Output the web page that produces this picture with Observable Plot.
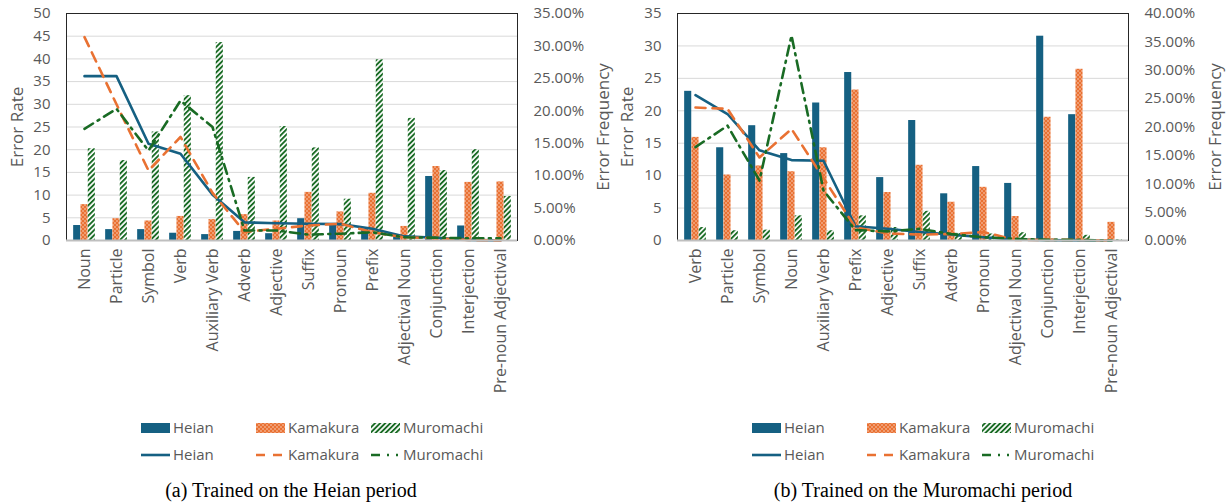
<!DOCTYPE html>
<html><head><meta charset="utf-8">
<script src="https://cdn.jsdelivr.net/npm/d3@7"></script>
<script src="https://cdn.jsdelivr.net/npm/@observablehq/plot@0.6"></script>
<style>
body{margin:0;background:#fff;width:1231px;height:504px;overflow:hidden;position:relative;font-family:"Open Sans",sans-serif}
.panel{position:absolute;top:0;width:616px;height:504px}
.caption{position:absolute;top:478px;font-family:"Liberation Serif",serif;font-size:20px;line-height:24px;color:#000;white-space:nowrap;transform:translateX(-50%)}
</style></head><body>
<div id="a" class="panel" style="left:0"></div>
<div id="b" class="panel" style="left:615px"></div>
<div class="caption" style="left:291px">(a) Trained on the Heian period</div>
<div class="caption" style="left:923px">(b) Trained on the Muromachi period</div>
<script>
// ---- Chart (a): Trained on the Heian period ----
const catsA = ["Noun","Particle","Symbol","Verb","Auxiliary Verb","Adverb","Adjective","Suffix","Pronoun","Prefix","Adjectival Noun","Conjunction","Interjection","Pre-noun Adjectival"];
const rateA_Heian     = [3.3,2.4,2.4,1.6,1.3,2.0,1.5,4.8,3.7,2.5,1.0,14.1,3.2,0.1];
const rateA_Kamakura  = [7.9,4.8,4.3,5.3,4.6,5.7,4.3,10.6,6.3,10.4,3.1,16.3,12.8,12.9];
const rateA_Muromachi = [20.2,17.6,23.9,31.9,43.6,13.9,25.1,20.4,9.1,39.8,26.9,15.4,20.0,9.7];
const freqA_Heian     = [25.34,25.34,14.91,13.37,7.07,2.80,2.66,2.59,2.52,1.82,0.63,0.42,0.10,0.00];
const freqA_Kamakura  = [31.36,21.0,10.78,15.96,7.35,1.33,1.82,2.31,2.59,1.26,0.49,0.35,0.07,0.00];
const freqA_Muromachi = [17.22,20.3,13.86,21.56,17.5,1.54,1.54,0.91,1.05,1.26,0.49,0.42,0.35,0.35];
const rateTicksA = [0,5,10,15,20,25,30,35,40,45,50];
const freqTicksA = [0,5,10,15,20,25,30,35];

// ---- Chart (b): Trained on the Muromachi period ----
const catsB = ["Verb","Particle","Symbol","Noun","Auxiliary Verb","Prefix","Adjective","Suffix","Adverb","Pronoun","Adjectival Noun","Conjunction","Interjection","Pre-noun Adjectival"];
const rateB_Heian     = [23.0,14.3,17.7,13.4,21.2,25.9,9.7,18.5,7.2,11.4,8.8,31.5,19.4,0.0];
const rateB_Kamakura  = [15.9,10.1,11.5,10.6,14.3,23.2,7.4,11.6,5.9,8.2,3.7,19.0,26.4,2.8];
const rateB_Muromachi = [2.0,1.5,1.6,3.8,1.5,3.8,2.0,4.5,1.1,1.0,1.2,0.2,0.8,0.1];
const freqB_Heian     = [25.6,22.29,15.89,14.17,14.06,2.51,2.06,1.49,1.03,0.57,0.17,0.06,0.0,0.0];
const freqB_Kamakura  = [23.43,23.2,14.63,19.66,10.97,2.29,1.26,1.03,1.14,1.49,0.11,0.11,0.11,0.0];
const freqB_Muromachi = [16.46,20.23,10.57,36.11,8.8,1.83,1.6,2.06,1.14,0.57,0.29,0.11,0.11,0.0];
const rateTicksB = [0,5,10,15,20,25,30,35];
const freqTicksB = [0,5,10,15,20,25,30,35,40];

const series = ["Heian","Kamakura","Muromachi"];
const colors = {Heian:"#156082", Kamakura:"#E97132", Muromachi:"#196B24"};
const GRAY = "#595959";

function addPatterns(defs, id) {
  const k = defs.append("pattern").attr("id", "kam-" + id).attr("patternUnits", "userSpaceOnUse")
    .attr("width", 4).attr("height", 4);
  k.append("rect").attr("width", 4).attr("height", 4).attr("fill", colors.Kamakura);
  k.append("rect").attr("x", 0.4).attr("y", 0.4).attr("width", 1.2).attr("height", 1.2).attr("fill", "#fff").attr("opacity", 0.85);
  k.append("rect").attr("x", 2.4).attr("y", 2.4).attr("width", 1.2).attr("height", 1.2).attr("fill", "#fff").attr("opacity", 0.85);
  const m = defs.append("pattern").attr("id", "muro-" + id).attr("patternUnits", "userSpaceOnUse")
    .attr("width", 3.6).attr("height", 3.6).attr("patternTransform", "rotate(45)");
  m.append("rect").attr("width", 3.6).attr("height", 3.6).attr("fill", "#fff");
  m.append("rect").attr("width", 1.9).attr("height", 3.6).attr("fill", colors.Muromachi);
}

function chart(el, id, cats, rates, freqs, rateTicks, freqTicks, mL, mR, titleL, titleR, legendX) {
  const yMax = rateTicks[rateTicks.length - 1];
  const fMax = freqTicks[freqTicks.length - 1];
  const k = yMax / fMax;
  const rows = cats.map((c, i) => ({cat: c, h: rates[0][i], ka: rates[1][i], mu: rates[2][i],
    fh: freqs[0][i], fk: freqs[1][i], fm: freqs[2][i]}));
  const W = 616, plotW = W - mL - mR;
  const band = plotW / cats.length;
  const bw = 7.3;
  const ins = (band - bw) / 2;
  const barOpts = (y, fill, dx) => ({x: "cat", y, fill, insetLeft: ins, insetRight: ins, dx});
  const svg = Plot.plot({
    width: W, height: 410,
    marginTop: 13, marginBottom: 170, marginLeft: mL, marginRight: mR,
    x: {type: "band", domain: cats, padding: 0},
    y: {domain: [0, yMax]},
    style: {fontFamily: "'Open Sans', sans-serif", color: GRAY, background: "white", overflow: "visible"},
    marks: [
      Plot.gridY(rateTicks.filter(t => t > 0), {stroke: "#d9d9d9", strokeOpacity: 1, strokeWidth: 1}),
      Plot.barY(rows, barOpts("h", colors.Heian, -bw)),
      Plot.barY(rows, barOpts("ka", colors.Kamakura, 0)),
      Plot.barY(rows, barOpts("mu", colors.Muromachi, bw)),
      Plot.lineY(rows, {x: "cat", y: d => d.fh * k, stroke: colors.Heian, strokeWidth: 2.6}),
      Plot.lineY(rows, {x: "cat", y: d => d.fk * k, stroke: colors.Kamakura, strokeWidth: 2.6, strokeDasharray: "10,7"}),
      Plot.lineY(rows, {x: "cat", y: d => d.fm * k, stroke: colors.Muromachi, strokeWidth: 2.6, strokeDasharray: "10,5.5,2,5.5"}),
      Plot.frame({stroke: "#262626", strokeWidth: 1}),
      Plot.ruleY([0], {stroke: "#bfbfbf", strokeWidth: 2}),
      Plot.axisY({ticks: rateTicks, tickSize: 0, tickPadding: 16, label: null, fontSize: 15, fill: GRAY}),
      Plot.axisY({anchor: "right", ticks: freqTicks.map(p => p * k), tickFormat: v => (v / k).toFixed(2) + "%",
        tickSize: 0, tickPadding: 16, label: null, fontSize: 15, fill: GRAY}),
      Plot.axisX({tickRotate: -90, tickSize: 0, tickPadding: 8, label: null, fontSize: 16, fill: GRAY}),
      Plot.text(["Error Rate"], {text: d => d, frameAnchor: "left", textAnchor: "middle", rotate: -90, dx: titleL, fontSize: 17, fill: GRAY}),
      Plot.text(["Error Frequency"], {text: d => d, frameAnchor: "right", textAnchor: "middle", rotate: -90, dx: titleR, fontSize: 17, fill: GRAY})
    ]
  });
  svg.style.position = "absolute";
  svg.style.left = "0px";
  svg.style.top = "0px";
  const s = d3.select(svg);
  addPatterns(s.append("defs"), id);
  const bars = s.selectAll('g[aria-label="bar"]').nodes();
  d3.select(bars[1]).selectAll("rect").attr("fill", `url(#kam-${id})`);
  d3.select(bars[2]).selectAll("rect").attr("fill", `url(#muro-${id})`);
  el.appendChild(svg);

  // legend (below the chart)
  const lg = d3.select(el).append("svg").attr("width", W).attr("height", 62)
    .style("position", "absolute").style("left", "0px").style("top", "410px");
  addPatterns(lg.append("defs"), id + "-lg");
  const fills = [colors.Heian, `url(#kam-${id}-lg)`, `url(#muro-${id}-lg)`];
  const dash = [null, "9,8", "9,7,2,7,2,100"];
  const lens = [29, 26, 27];
  series.forEach((name, i) => {
    const x0 = legendX + i * 115;
    lg.append("rect").attr("x", x0).attr("y", 13).attr("width", 29).attr("height", 10).attr("fill", fills[i]);
    lg.append("text").attr("x", x0 + 32).attr("y", 18).attr("dy", "0.35em").attr("fill", GRAY)
      .attr("font-size", 15).attr("font-family", "'Open Sans', sans-serif").text(name);
    lg.append("line").attr("x1", x0).attr("x2", x0 + lens[i]).attr("y1", 45).attr("y2", 45)
      .attr("stroke", colors[name]).attr("stroke-width", 2.6).attr("stroke-dasharray", dash[i]);
    lg.append("text").attr("x", x0 + 32).attr("y", 45).attr("dy", "0.35em").attr("fill", GRAY)
      .attr("font-size", 15).attr("font-family", "'Open Sans', sans-serif").text(name);
  });
}

chart(document.getElementById("a"), "a", catsA,
  [rateA_Heian, rateA_Kamakura, rateA_Muromachi], [freqA_Heian, freqA_Kamakura, freqA_Muromachi],
  rateTicksA, freqTicksA, 66, 99, -49, 86, 141);
chart(document.getElementById("b"), "b", catsB,
  [rateB_Heian, rateB_Kamakura, rateB_Muromachi], [freqB_Heian, freqB_Kamakura, freqB_Muromachi],
  rateTicksB, freqTicksB, 62, 103, -50, 87, 137);
</script>
</body></html>
